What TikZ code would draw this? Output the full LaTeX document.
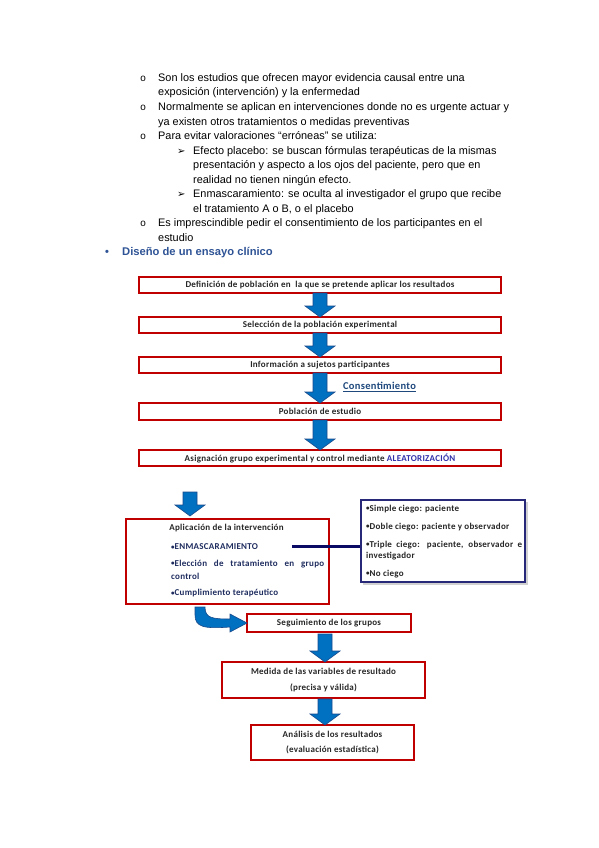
\documentclass[tikz,border=0pt]{standalone}
\usepackage{fontspec}
\setmainfont{Liberation Sans}
\newfontfamily\carl[LetterSpace=3]{Carlito}
\newfontfamily\dejavu{DejaVu Sans}
\newfontfamily\monof{Liberation Mono}
\usetikzlibrary{calc}
\definecolor{boxred}{RGB}{192,0,0}
\definecolor{navybox}{RGB}{40,40,120}
\definecolor{navyline}{RGB}{10,10,100}
\definecolor{arrfill}{RGB}{0,112,192}
\definecolor{arredge}{RGB}{25,75,140}
\definecolor{headblue}{RGB}{47,84,150}
\definecolor{consblue}{RGB}{31,73,125}
\definecolor{aleablue}{RGB}{48,48,170}
\definecolor{itemnavy}{RGB}{31,45,95}
\newcommand\sbul{\raisebox{0.6pt}{\fontsize{7}{7}\selectfont•}}
\newcommand\bArr[2]{%
  \filldraw[barrow] let \p1=(#1), \p2=(#2) in
  (\x1-7pt,\y1) -- (\x1+7pt,\y1) -- (\x1+7pt,\y2+11pt) -- (\x1+15pt,\y2+11pt)
  -- (\x1,\y2) -- (\x1-15pt,\y2+11pt) -- (\x1-7pt,\y2+11pt) -- cycle;}
\begin{document}
\begin{tikzpicture}[x=1pt,y=-1pt,
  para/.style={anchor=base west, inner sep=0pt, font=\fontsize{10.9}{13}\selectfont},
  obul/.style={anchor=base west, inner sep=0pt, font=\monof\fontsize{10}{11}\selectfont},
  abul/.style={anchor=base west, inner sep=0pt, font=\dejavu\fontsize{10}{11}\selectfont},
  flow/.style={draw=boxred, line width=1.8pt, fill=white, inner sep=0pt, outer sep=0pt},
  ftext/.style={font=\carl\bfseries\fontsize{9}{10.8}\selectfont, text=black!85},
  btext/.style={anchor=west, inner sep=0pt, font=\carl\bfseries\fontsize{9}{10.8}\selectfont, text=black!85},
  itext/.style={anchor=west, inner sep=0pt, font=\carl\bfseries\fontsize{9}{10.8}\selectfont, text=itemnavy},
  barrow/.style={fill=arrfill, draw=arredge, line width=0.6pt, line join=miter}
]
\useasboundingbox (0,0) rectangle (599,848);
\fill[white] (0,0) rectangle (599,848);

% ---------- text list ----------
\node[obul] (o1) at (140,81.5) {o};
\node[para] (t1) at (158,81.5) {Son los estudios que ofrecen mayor evidencia causal entre una};
\node[para] (t2) at (158,96) {exposición (intervención) y la enfermedad};
\node[obul] (o2) at (140,110.5) {o};
\node[para] (t3) at (158,110.5) {Normalmente se aplican en intervenciones donde no es urgente actuar y};
\node[para] (t4) at (158,125) {ya existen otros tratamientos o medidas preventivas};
\node[obul] (o3) at (140,139.5) {o};
\node[para] (t5) at (158,139.5) {Para evitar valoraciones “erróneas” se utiliza:};
\node[abul] (s1) at (177,154) {➢};
\node[para] (t6) at (193,154) {Efecto placebo: se buscan fórmulas terapéuticas de la mismas};
\node[para] (t7) at (193,168.5) {presentación y aspecto a los ojos del paciente, pero que en};
\node[para] (t8) at (193,183) {realidad no tienen ningún efecto.};
\node[abul] (s2) at (177,197.5) {➢};
\node[para] (t9) at (193,197.5) {Enmascaramiento: se oculta al investigador el grupo que recibe};
\node[para] (t10) at (193,212) {el tratamiento A o B, o el placebo};
\node[obul] (o4) at (140,226.5) {o};
\node[para] (t11) at (158,226.5) {Es imprescindible pedir el consentimiento de los participantes en el};
\node[para] (t12) at (158,241) {estudio};
\node[anchor=base west, inner sep=0pt, text=headblue, font=\bfseries\fontsize{11}{13}\selectfont] (hb) at (105,255.5) {•};
\node[anchor=base west, inner sep=0pt, text=headblue, font=\bfseries\fontsize{11.2}{13}\selectfont] (hd) at (122,255.5) {Diseño de un ensayo clínico};

% ---------- flow boxes ----------
\node[flow, minimum width=362pt, minimum height=16pt, ftext] (b1) at (320,285) {Definición de población en\ \ la que se pretende aplicar los resultados};
\node[flow, minimum width=362pt, minimum height=16pt, ftext] (b2) at (320,325) {Selección de la población experimental};
\node[flow, minimum width=362pt, minimum height=16pt, ftext] (b3) at (320,365) {Información a sujetos participantes};
\node[flow, minimum width=362pt, minimum height=17pt, ftext] (b4) at (320,411.5) {Población de estudio};
\node[flow, minimum width=362pt, minimum height=16pt, ftext] (b5) at (320,458) {Asignación grupo experimental y control mediante \textcolor{aleablue}{ALEATORIZACIÓN}};

\node[inner sep=0pt, text=consblue, font=\carl\bfseries\fontsize{10.5}{12}\selectfont] (cons) at (379.5,387) {\underline{Consentimiento}};

\bArr{b1.south}{b2.north}
\bArr{b2.south}{b3.north}
\bArr{b3.south}{b4.north}
\bArr{b4.south}{b5.north}

% ---------- application box ----------
\node[flow, minimum width=203pt, minimum height=85pt] (apl) at (227.5,561.5) {};
\node[inner sep=0pt, ftext] (aplt) at (226.5,528) {Aplicación de la intervención};
\node[itext] (enm) at (171,547) {\sbul ENMASCARAMIENTO};
\node[itext] (ele) at (171,564) {\makebox[153pt][s]{\sbul Elección de tratamiento en grupo}};
\node[itext] (ctl) at (171,576) {control};
\node[itext] (cum) at (171,593.5) {\sbul Cumplimiento terapéutico};

\coordinate (a5s) at (190,492);
\coordinate (a5e) at (190,516);
\bArr{a5s}{a5e}

% ---------- blinding box ----------
\fill[black!18] (363,502) rectangle (528,585);
\node[draw=navybox, line width=1.5pt, fill=white, inner sep=0pt, minimum width=164pt, minimum height=82pt] (blind) at (443,541) {};
\node[btext] (k1) at (366,509) {\sbul Simple ciego: paciente};
\node[btext] (k2) at (366,527) {\sbul Doble ciego: paciente y observador};
\node[btext] (k3) at (366,545) {\makebox[156pt][s]{\sbul Triple ciego: paciente, observador e}};
\node[btext] (k4) at (366,556) {investigador};
\node[btext] (k5) at (366,574) {\sbul No ciego};

\coordinate (lst) at (292,546.5);
\draw[navyline, line width=2.5pt] (lst) -- (lst -| blind.west);

% ---------- lower flow ----------
\node[flow, minimum width=164pt, minimum height=18pt, ftext] (seg) at (329,623) {Seguimiento de los grupos};
\node[flow, minimum width=203pt, minimum height=36pt, ftext, align=center] (med) at (323.5,680) {Medida de las variables de resultado\\[5pt](precisa y válida)};
\node[flow, minimum width=163pt, minimum height=35pt, ftext, align=center] (ana) at (332.5,742.5) {Análisis de los resultados\\[5pt](evaluación estadística)};

\coordinate (cst) at (200,607);
\filldraw[barrow] let \p1=(cst), \p2=(seg.west) in
  (\x1-5pt,\y1) -- (\x1+5pt,\y1)
  .. controls (\x1+5pt,\y2+5pt) and (\x1+12pt,\y2+4pt) .. (\x2-17pt,\y2+4pt)
  -- (\x2-17pt,\y2+9pt) -- (\x2,\y2) -- (\x2-17pt,\y2-9pt) -- (\x2-17pt,\y2-4pt)
  .. controls (\x1+4pt,\y2-6pt) and (\x1-5pt,\y2-4pt) .. (\x1-5pt,\y2+8pt) -- cycle;

\coordinate (a6s) at (325,634);
\bArr{a6s}{a6s |- med.north}
\coordinate (a7s) at (325,699);
\bArr{a7s}{a7s |- ana.north}
\end{tikzpicture}
\end{document}
